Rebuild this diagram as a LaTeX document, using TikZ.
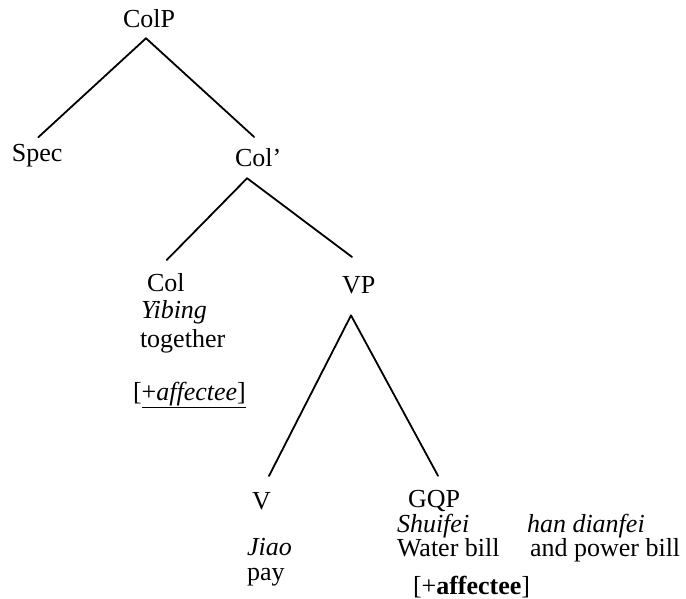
\documentclass[tikz,border=0pt]{standalone}
\usepackage{fontspec}
\setmainfont{Liberation Serif}
\begin{document}
\begin{tikzpicture}[x=1pt,y=-1pt,
  lbl/.style={anchor=base west,inner sep=0pt,outer sep=0pt,
    font=\fontsize{26}{30}\selectfont},
  branch/.style={line width=1.8pt,line cap=round}]
\useasboundingbox (0,0) rectangle (686,599);

% category labels
\node[lbl] (colp)   at (123,28)  {ColP};
\node[lbl] (spec)   at (12,162)  {Spec};
\node[lbl] (colbar) at (235,167) {Col’};
\node[lbl] (col)    at (147,291) {Col};
\node[lbl] (vp)     at (342,293) {VP};
\node[lbl] (v)      at (252,509) {V};
\node[lbl] (gqp)    at (408,507) {GQP};

% glosses under Col
\node[lbl] (yibing)   at (141,318) {\itshape Yibing};
\node[lbl] (together) at (140,347) {together};
\node[lbl] (feat1)    at (133,400) {[\underline{+\textit{affectee}]}};

% glosses under V
\node[lbl] (jiao) at (247,555) {\itshape Jiao};
\node[lbl] (pay)  at (247,580) {pay};

% glosses under GQP
\node[lbl] (shuifei)   at (397,532) {\itshape Shuifei};
\node[lbl] (handian)   at (527,532) {\itshape han dianfei};
\node[lbl] (water)     at (397,556) {Water bill};
\node[lbl] (power)     at (530,556) {and power bill};
\node[lbl] (feat2)     at (413,594) {[+\textbf{affectee}]};

% branches
\draw[branch] ([xshift=-3pt,yshift=-10pt]colp.south) -- ([xshift=1pt,yshift=7.5pt]spec.north);
\draw[branch] ([xshift=-3pt,yshift=-10pt]colp.south) -- ([xshift=-4pt,yshift=12pt]colbar.north);
\draw[branch] ([xshift=-11pt,yshift=-11pt]colbar.south) -- ([xshift=1pt,yshift=13pt]col.north);
\draw[branch] ([xshift=-11pt,yshift=-11pt]colbar.south) -- ([xshift=-6.6pt,yshift=19pt]vp.north);
\draw[branch] ([xshift=-7.6pt,yshift=-22pt]vp.south) -- ([xshift=7.6pt,yshift=16pt]v.north);
\draw[branch] ([xshift=-7.6pt,yshift=-22pt]vp.south) -- ([xshift=4pt,yshift=14pt]gqp.north);
\end{tikzpicture}
\end{document}
